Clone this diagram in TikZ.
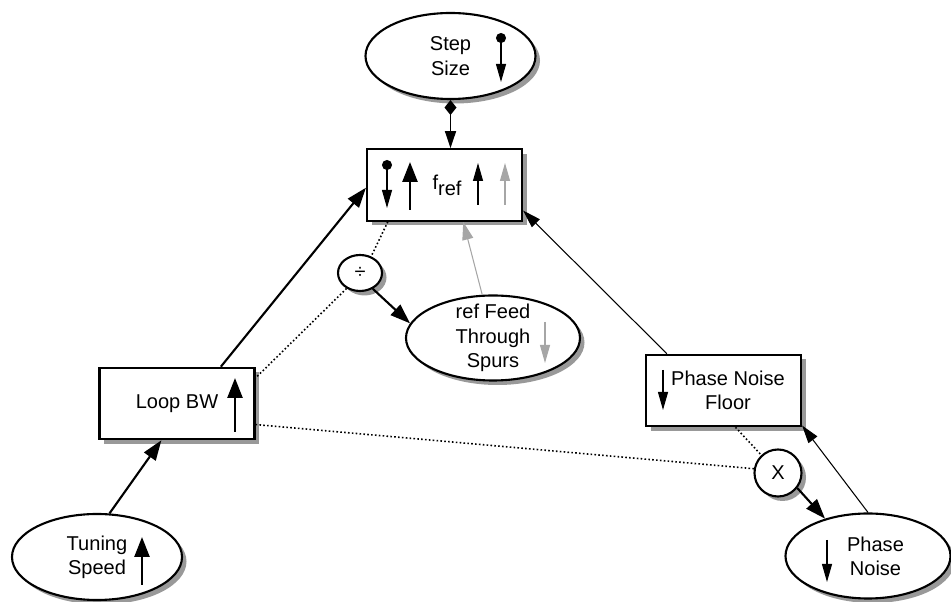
\documentclass[tikz,border=0pt]{standalone}
\usepackage{fontspec}
\setmainfont{Liberation Sans}
\usepackage{tikz}
\usetikzlibrary{positioning, arrows.meta, shapes.geometric, calc, shadows}

\begin{document}
\begin{tikzpicture}[
    shade/.style={drop shadow={shadow xshift=0.09cm, shadow yshift=-0.09cm, fill=black!40, opacity=1}},
    box/.style={rectangle, draw=black, line width=1.2pt, fill=white, shade,
                minimum width=3.1cm, minimum height=1.43cm, align=center,
                font=\fontsize{11.4}{13.8}\selectfont},
    bubble/.style={ellipse, draw=black, line width=1.2pt, fill=white, shade, inner sep=0pt,
                   minimum width=3.4cm, minimum height=1.72cm, align=center,
                   font=\fontsize{11.4}{13.8}\selectfont},
    opnode/.style={ellipse, draw=black, line width=1.2pt, fill=white, shade, inner sep=0pt,
                   font=\fontsize{11.4}{13.8}\selectfont},
    link/.style={-{Triangle[length=4mm, width=2.8mm]}, line width=1.2pt},
    thinlink/.style={-{Triangle[length=3.6mm, width=2.2mm]}, line width=0.6pt},
    dotlink/.style={line width=0.9pt, dash pattern=on 0.9pt off 1.3pt},
    pinlink/.style={{Diamond[length=3mm, width=2.4mm]}-{Triangle[length=3.4mm, width=2.2mm]}, line width=0.8pt},
    glyphbold/.style={-{Triangle[length=4mm, width=3mm]}, line width=1.4pt},
    glyph/.style={-{Triangle[length=3.6mm, width=2mm]}, line width=0.6pt},
    glyphpin/.style={{Circle[length=2mm]}-{Triangle[length=3.6mm, width=2mm]}, line width=0.6pt}
]
    \useasboundingbox (0,0) rectangle (19.02,12.04);

    % Nodes
    \node[bubble] (stepsize) at (9.01, 10.92) {Step\\Size};
    \node[box] (fref) at (8.89, 8.34) {\hspace*{0.1cm}f\raisebox{-0.55ex}{ref}};
    \node[box] (loopbw) at (3.54, 3.97) {Loop BW};
    \node[bubble] (tuning) at (1.94, 0.9) {Tuning\\Speed};
    \node[bubble, minimum width=3.48cm, minimum height=1.7cm, inner ysep=-0.2cm] (refspurs) at (9.86, 5.28) {ref Feed\\Through\\Spurs};
    \node[opnode, minimum width=0.88cm, minimum height=0.72cm] (div) at (7.2, 6.58) {÷};
    \node[box] (pnfloor) at (14.47, 4.23) {\hspace*{0.18cm}Phase Noise\\\hspace*{0.18cm}Floor};
    \node[opnode, circle, minimum size=0.94cm] (xcirc) at (15.56, 2.58) {X};
    \node[bubble, minimum width=3.3cm, minimum height=1.7cm] (phasenoise) at (17.36, 0.92) {\hspace*{0.3cm}Phase\\\hspace*{0.3cm}Noise};

    % Arrows inside the nodes
    \draw[glyphpin] ($(stepsize.center)+(1.01,0.46)$) -- ++(0,-0.98);
    \draw[glyphpin] ($(fref.center)+(-1.15,0.5)$) -- ++(0,-0.96);
    \draw[glyphbold] ($(fref.center)+(-0.69,-0.5)$) -- ++(0,0.96);
    \draw[glyph] ($(fref.center)+(0.67,-0.4)$) -- ++(0,0.84);
    \draw[glyph, black!35] ($(fref.center)+(1.21,-0.4)$) -- ++(0,0.84);
    \draw[glyphbold] ($(loopbw.center)+(1.16,-0.57)$) -- ++(0,1.08);
    \draw[glyphbold] ($(tuning.center)+(0.9,-0.56)$) -- ++(0,0.96);
    \draw[glyph, black!35] ($(refspurs.center)+(1.04,0.32)$) -- ++(0,-0.82);
    \draw[glyph] ($(pnfloor.center)+(-1.21,0.41)$) -- ++(0,-0.8);
    \draw[glyph] ($(phasenoise.center)+(-0.82,0.32)$) -- ++(0,-0.84);

    % Connectors
    \draw[pinlink] (stepsize.south) -- (stepsize.south |- fref.north);
    \draw[link] (tuning.74) -- (loopbw.247);
    \draw[link] (loopbw.40) -- (fref.182);
    \draw[thinlink] (pnfloor.147) -- (fref.-18);
    \draw[thinlink] (phasenoise.north) -- (pnfloor.-24);
    \draw[link] (xcirc.-38) -- (phasenoise.139);
    \draw[link] (div.-51) -- (refspurs.170);
    \draw[thinlink, black!35] (refspurs.104) -- (fref.-63);

    % Dotted lines
    \draw[dotlink] (fref.213) -- (div.56);
    \draw[dotlink] (div.229) -- (loopbw.18);
    \draw[dotlink] (loopbw.-15) -- (xcirc.170);
    \draw[dotlink] (pnfloor.-72) -- (xcirc.133);
\end{tikzpicture}
\end{document}
